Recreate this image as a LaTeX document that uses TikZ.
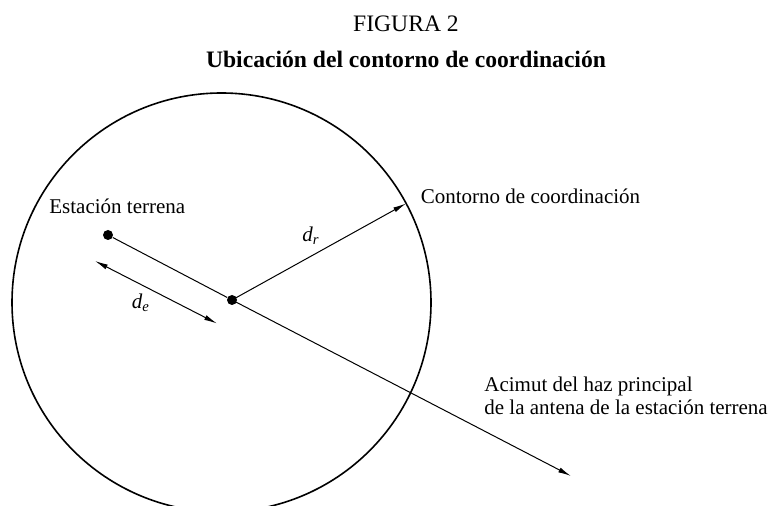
\documentclass[tikz,border=0pt]{standalone}
\usepackage{fontspec}
\setmainfont{Liberation Serif}
\usetikzlibrary{arrows.meta,positioning}

\tikzset{
    txt/.style={inner sep=0pt, font=\fontsize{10.5}{12.6}\selectfont},
    ttl/.style={inner sep=0pt, font=\fontsize{11.8}{14}\selectfont},
    punto/.style={circle, fill=black, inner sep=0pt, minimum size=5pt},
    flecha/.style={line width=0.5pt, -{Latex[length=6.5pt,width=2.6pt]}},
}

\begin{document}
\begin{tikzpicture}[x=0.5pt,y=-0.5pt]
    \clip (0,0) rectangle (771,506);

    % titulo
    \node [ttl, anchor=base] (fig) at (406,31.5) {FIGURA 2};
    \node [ttl, anchor=base, font=\fontsize{11.8}{14}\selectfont\bfseries] (tit) at (406,67.5) {Ubicación del contorno de coordinación};

    % contorno
    \draw [line width=0.8pt] (221.5,302.5) circle [radius=209.5];
    \coordinate (cont) at (406,203.5);
    \node [txt, anchor=base west] (lcont) at (420.5,203.5) {Contorno de coordinación};

    % estacion terrena
    \node [punto] (est) at (108,235) {};
    \node [punto] (ctr) at (232,300) {};
    \node [txt, anchor=base west] (lest) at (49,213.5) {Estación terrena};
    \draw [line width=0.5pt] (est) -- (ctr);

    % acimut
    \coordinate (az) at (571,476);
    \draw [flecha] (ctr.center) -- (az);
    \node [txt, anchor=base west] (laz1) at (484,391.5) {Acimut del haz principal};
    \node [txt, anchor=base west] (laz2) at (484,414.5) {de la antena de la estación terrena};

    % distancias
    \draw [flecha] (ctr.center) -- (cont);
    \node [txt] (dr) at (311,236) {\textit{d\textsubscript{r}}};
    \coordinate (de1) at (95,261);
    \coordinate (de2) at (217,323.5);
    \draw [flecha, {Latex[length=6.5pt,width=2.6pt]}-{Latex[length=6.5pt,width=2.6pt]}] (de1) -- (de2);
    \node [txt] (de) at (141,303) {\textit{d\textsubscript{e}}};
\end{tikzpicture}
\end{document}
